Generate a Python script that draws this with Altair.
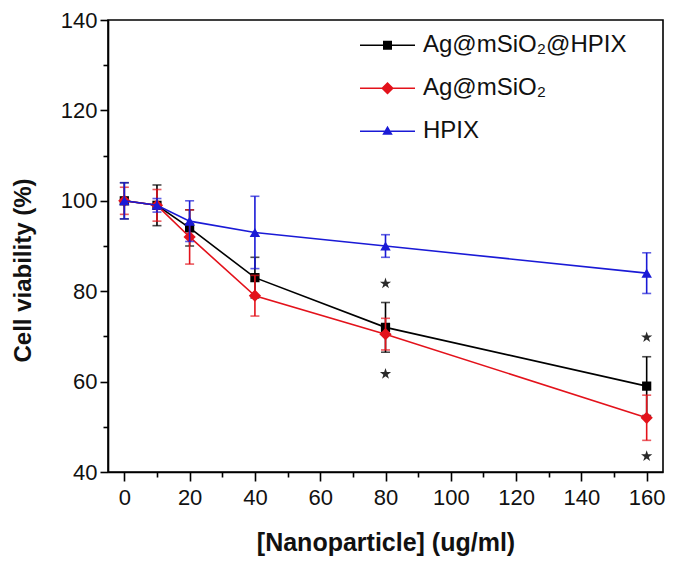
import altair as alt
import pandas as pd

# ---- data ----
series_names = ["Ag@mSiO₂@HPIX", "Ag@mSiO₂", "HPIX"]
concentrations = [0, 10, 20, 40, 80, 160]
black_mean = [100, 99, 94, 83, 72, 59]
black_err = [4, 4.5, 4, 4.5, 5.5, 6.5]
red_mean = [100, 99, 92, 79, 70.5, 52]
red_err = [3, 3.5, 6, 4.5, 3.5, 5]
blue_mean = [100, 99, 95.5, 93, 90, 84]
blue_err = [4, 1.5, 4.5, 8, 2.5, 4.5]
star_x = [80, 80, 160, 160]
star_y = [81.7, 61.7, 69.8, 43.5]

x_ticks = list(range(0, 161, 10))
y_ticks = list(range(40, 141, 10))

colors = ["#000000", "#e3121b", "#1a1ad6"]

rows = []
for name, means, errs in zip(series_names, [black_mean, red_mean, blue_mean], [black_err, red_err, blue_err]):
    for c, m, e in zip(concentrations, means, errs):
        rows.append({"series": name, "conc": c, "mean": m, "lo": m - e, "hi": m + e})
df = pd.DataFrame(rows)
stars = pd.DataFrame({"conc": star_x, "mean": star_y})

# ---- shapes ----
line_part = "M-1,-0.028H1V0.028H-1Z"
legend_paths = [
    line_part + "M-0.164,-0.164H0.164V0.164H-0.164Z",
    line_part + "M0,-0.23L0.23,0L0,0.23L-0.23,0Z",
    line_part + "M0,-0.2L0.19,0.13L-0.19,0.13Z",
]
point_shapes = ["square", "diamond", "triangle-up"]
point_sizes = [85, 150, 110]
star_path = "M0,-1L0.225,-0.31L0.95,-0.31L0.36,0.12L0.59,0.81L0,0.38L-0.59,0.81L-0.36,0.12L-0.95,-0.31L-0.225,-0.31Z"

x_axis = alt.Axis(
    values=x_ticks,
    labelExpr="datum.value % 20 === 0 ? datum.label : ''",
    tickSize={"condition": {"test": "datum.value % 20 === 0", "value": 9}, "value": 5},
    labelPadding=6,
    titlePadding=22,
    titleFontSize=25,
)
y_axis = alt.Axis(
    values=y_ticks,
    labelExpr="datum.value % 20 === 0 ? datum.label : ''",
    tickSize={"condition": {"test": "datum.value % 20 === 0", "value": 8}, "value": 5},
    labelPadding=3,
    titlePadding=25,
    titleY=250,
)
X = alt.X("conc:Q", scale=alt.Scale(domain=[-5, 165], nice=False, zero=False),
          axis=x_axis, title="[Nanoparticle] (ug/ml)")
Y = alt.Y("mean:Q", scale=alt.Scale(domain=[40, 140], nice=False, zero=False),
          axis=y_axis, title="Cell viability (%)")
color_scale = alt.Scale(domain=series_names, range=colors)
C = alt.Color("series:N", scale=color_scale, legend=None)

base = alt.Chart(df)

layers = []
for i, name in enumerate(series_names):
    sub = base.transform_filter(alt.datum.series == name)
    lines = sub.mark_line(strokeWidth=1.6).encode(x=X, y=Y, color=C)
    err = sub.mark_rule(strokeWidth=1.6).encode(
        x=X, y=alt.Y("lo:Q"), y2=alt.Y2("hi:Q"), color=C)
    cap_lo = sub.mark_tick(orient="horizontal", size=9, thickness=1.6).encode(
        x=X, y=alt.Y("lo:Q"), color=C)
    cap_hi = sub.mark_tick(orient="horizontal", size=9, thickness=1.6).encode(
        x=X, y=alt.Y("hi:Q"), color=C)
    pts = sub.mark_point(shape=point_shapes[i], filled=True, opacity=1,
                         size=point_sizes[i]).encode(x=X, y=Y, color=C)
    layers += [lines, err, cap_lo, cap_hi, pts]

star_layer = alt.Chart(stars).mark_point(shape=star_path, filled=True, opacity=1,
                                         size=140, color="#2a2a2a").encode(x=X, y=Y)

leg = alt.Legend(title=None, orient="none", legendX=252, legendY=4)
legend_layer = base.transform_filter("false").mark_point(filled=True, opacity=1).encode(
    x=X, y=Y,
    color=alt.Color("series:N", scale=color_scale, legend=leg),
    shape=alt.Shape("series:N", scale=alt.Scale(domain=series_names, range=legend_paths), legend=leg),
)

chart = alt.layer(*layers, star_layer, legend_layer).resolve_legend(
    color="independent", shape="independent"
).properties(
    width=555, height=452,
    autosize=alt.AutoSizeParams(type="none"),
    padding={"left": 100, "top": 12, "right": 4, "bottom": 85},
).configure_view(
    stroke="#000000", strokeWidth=1.6
).configure_axis(
    domainColor="#000000", domainWidth=1.6, tickColor="#000000", tickWidth=1.6,
    labelFont="Liberation Sans", labelFontSize=22, labelColor="#111111",
    titleFont="Liberation Sans", titleFontSize=24, titleFontWeight="bold", titleColor="#111111",
    grid=False,
).configure_legend(
    symbolSize=3025, symbolStrokeWidth=0, labelFont="Liberation Sans", labelFontSize=24,
    labelColor="#111111", labelOffset=8, clipHeight=42.5, rowPadding=0, padding=0,
    symbolOffset=0, labelLimit=400, labelBaseline="middle",
)

chart.save("out.html", embed_options={"renderer": "svg", "actions": False})
